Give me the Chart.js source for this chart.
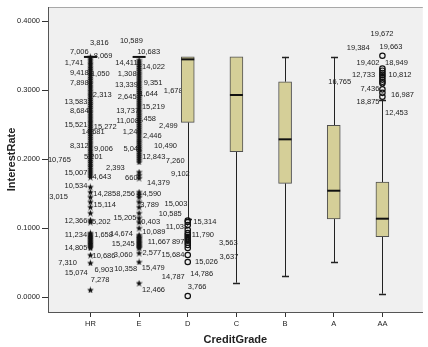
<!DOCTYPE html>
<html><head><meta charset="utf-8">
<script src="https://cdn.jsdelivr.net/npm/chart.js@4/dist/chart.umd.min.js"></script>
<style>html,body{margin:0;padding:0;background:#fff}#wrap{width:428px;height:347px;position:relative}</style>
</head><body><div id="wrap"><canvas id="c"></canvas></div>
<script>
// ---- data ----
const categories = ['HR','E','D','C','B','A','AA'];
const q1        = [0.3480, 0.3480, 0.2533, 0.2108, 0.1650, 0.1133, 0.0877];
const median    = [0.3480, 0.3480, 0.3445, 0.2929, 0.2287, 0.1543, 0.1138];
const q3        = [0.3480, 0.3480, 0.3480, 0.3480, 0.3121, 0.2490, 0.1669];
const whiskLow  = [0.3480, 0.3480, 0.1130, 0.0211, 0.0308, 0.0507, 0.0052];
const whiskHigh = [0.3480, 0.3480, 0.3480, 0.3480, 0.3480, 0.3480, 0.2856];
const yTicks = [0.0, 0.1, 0.2, 0.3, 0.4];

// extreme outliers (stars)
const hrStars = [0.3480,0.3449,0.3421,0.3388,0.3362,0.3329,0.3301,0.3274,0.3240,0.3215,0.3180,0.3152,0.3119,0.3093,0.3060,0.3031,0.2999,0.2972,0.2940,0.2912,0.2880,0.2851,0.2819,0.2792,0.2760,0.2731,0.2699,0.2672,0.2640,0.2610,0.2581,0.2549,0.2522,0.2490,0.2461,0.2430,0.2402,0.2369,0.2342,0.2310,0.2281,0.2249,0.2221,0.2190,0.2162,0.2129,0.2101,0.2070,0.2042,0.2010,0.1979,0.1951,0.1919,0.1893,0.1860,0.1829,0.1801,0.1772,0.1740,0.1597,0.1524,0.1452,0.1380,0.1307,0.1220,0.1119,0.1090,0.0931,0.0915,0.0899,0.0881,0.0862,0.0846,0.0829,0.0812,0.0796,0.0779,0.0761,0.0745,0.0729,0.0714,0.0612,0.0497,0.0106];
const eStars  = [0.3435,0.3405,0.3372,0.3341,0.3310,0.3281,0.3249,0.3221,0.3190,0.3160,0.3129,0.3101,0.3070,0.3039,0.3011,0.2980,0.2951,0.2919,0.2890,0.2861,0.2830,0.2800,0.2771,0.2740,0.2709,0.2681,0.2650,0.2621,0.2590,0.2561,0.2530,0.2499,0.2470,0.2441,0.2410,0.2380,0.2351,0.2320,0.2290,0.2259,0.2231,0.2200,0.2170,0.2141,0.2110,0.2079,0.2050,0.2021,0.1990,0.1959,0.1814,0.1770,0.1727,0.1524,0.1490,0.1452,0.1380,0.1307,0.1220,0.1148,0.1090,0.1003,0.0902,0.0885,0.0866,0.0849,0.0831,0.0812,0.0795,0.0778,0.0760,0.0744,0.0728,0.0714,0.0641,0.0511,0.0205];
// mild outliers (circles)
const dCircles  = [0.1112,0.1090,0.1047,0.0974,0.0931,0.0902,0.0872,0.0844,0.0818,0.0790,0.0757,0.0714,0.0612,0.0511,0.0019];
const aaCircles = [0.3497,0.3312,0.3281,0.3248,0.3219,0.3188,0.3152,0.3120,0.3098,0.3011,0.2960,0.2904];

// case labels: [text, x (category units), value]
const caseLabels = [
 ['3,816',0.182,0.3677],['7,006',-0.229,0.3556],['8,069',0.259,0.3498],['1,741',-0.334,0.3388],
 ['9,418',-0.229,0.3243],['1,050',0.203,0.3228],['7,898',-0.229,0.3098],['2,313',0.243,0.2929],
 ['13,583',-0.298,0.2832],['8,684',-0.229,0.2697],['15,521',-0.298,0.2494],['15,272',0.304,0.2470],
 ['14,681',0.057,0.2389],['8,312',-0.229,0.2195],['9,006',0.267,0.2147],['5,201',0.061,0.2027],
 ['10,765',-0.638,0.1988],['15,007',-0.298,0.1795],['2,393',0.513,0.1868],['4,643',0.233,0.1737],
 ['10,534',-0.298,0.1611],['3,015',-0.655,0.1456],['14,285',0.294,0.1495],['15,114',0.294,0.1336],
 ['12,366',-0.298,0.1112],['5,202',0.223,0.1086],['11,234',-0.298,0.0902],['1,658',0.270,0.0902],
 ['14,805',-0.298,0.0709],['10,686',0.278,0.0602],['7,310',-0.470,0.0492],['6,903',0.278,0.0395],
 ['15,074',-0.290,0.0347],['7,278',0.199,0.0250],
 ['10,589',0.841,0.3715],['10,683',1.196,0.3547],['14,411',0.740,0.3396],['14,022',1.297,0.3330],
 ['1,308',0.756,0.3228],['9,351',1.287,0.3107],['13,339',0.740,0.3073],['2,645',0.756,0.2904],
 ['1,644',1.196,0.2939],['1,678',1.702,0.2987],['15,219',1.293,0.2751],['13,737',0.764,0.2697],
 ['11,008',0.764,0.2557],['1,458',1.155,0.2581],['2,499',1.601,0.2480],['1,240',0.857,0.2389],
 ['2,446',1.271,0.2339],['10,490',1.544,0.2190],['5,041',0.871,0.2147],['12,843',1.303,0.2027],
 ['7,260',1.743,0.1973],['9,102',1.848,0.1789],['660',0.841,0.1731],['14,379',1.398,0.1659],
 ['8,256',0.723,0.1495],['4,590',1.262,0.1495],['3,789',1.216,0.1336],['15,003',1.757,0.1351],
 ['10,585',1.641,0.1202],['15,205',0.709,0.1144],['10,403',1.196,0.1094],['15,314',2.351,0.1094],
 ['10,089',1.303,0.0950],['11,038',1.779,0.1013],['11,790',2.310,0.0902],['14,674',0.638,0.0916],
 ['11,667',1.408,0.0805],['897',1.803,0.0805],['15,245',0.673,0.0767],['2,577',1.262,0.0637],
 ['3,060',0.673,0.0620],['15,684',1.696,0.0612],['3,563',2.833,0.0782],['3,637',2.847,0.0588],
 ['15,026',2.385,0.0507],['10,358',0.723,0.0410],['15,479',1.291,0.0420],['14,787',1.702,0.0298],
 ['14,786',2.286,0.0333],['12,466',1.297,0.0106],['3,766',2.193,0.0153],
 ['19,672',5.992,0.3807],['19,384',5.502,0.3605],['19,663',6.176,0.3619],['19,402',5.704,0.3396],
 ['18,949',6.288,0.3396],['12,733',5.613,0.3218],['10,812',6.363,0.3218],['16,765',5.123,0.3113],
 ['7,436',5.745,0.3011],['16,987',6.413,0.2929],['18,875',5.704,0.2832],['12,453',6.288,0.2664]
];

// ---- styling helpers ----
Chart.defaults.font.family = '"Liberation Sans", Arial, sans-serif';
Chart.defaults.color = '#222';

const starImg = (() => {
  const c = document.createElement('canvas'); c.width = 7; c.height = 7;
  const g = c.getContext('2d'); g.fillStyle = '#111'; g.beginPath();
  for (let i = 0; i < 10; i++) {
    const r = i % 2 ? 1.5 : 3.5, a = -Math.PI / 2 + i * Math.PI / 5;
    g.lineTo(3.5 + r * Math.cos(a), 3.8 + r * Math.sin(a));
  }
  g.closePath(); g.fill(); return c;
})();

const boxWidth = 13, capWidth = 7;

const boxPlugin = {
  id: 'boxParts',
  beforeDraw(chart) {
    const {ctx, chartArea: a} = chart;
    ctx.save();
    ctx.fillStyle = '#f0f0f0';
    ctx.fillRect(a.left, a.top, a.right - a.left, a.bottom - a.top);
    ctx.strokeStyle = '#a8a8a8'; ctx.lineWidth = 1;
    ctx.beginPath(); ctx.moveTo(a.left, a.top + 0.5); ctx.lineTo(a.right, a.top + 0.5); ctx.stroke();
    ctx.restore();
  },
  beforeDatasetsDraw(chart) {
    const {ctx} = chart, xs = chart.scales.x, ys = chart.scales.y;
    ctx.save();
    ctx.font = '7.5px "Liberation Sans", Arial, sans-serif';
    ctx.fillStyle = '#222'; ctx.textAlign = 'center'; ctx.textBaseline = 'middle';
    caseLabels.forEach(([t, x, v]) => ctx.fillText(t, xs.getPixelForValue(x), ys.getPixelForValue(v)));
    // whiskers
    ctx.strokeStyle = '#222'; ctx.lineWidth = 1;
    categories.forEach((c, i) => {
      const px = Math.round(xs.getPixelForValue(i)) + 0.5;
      const segs = [[whiskLow[i], q1[i]], [q3[i], whiskHigh[i]]];
      segs.forEach(([a, b]) => {
        if (Math.abs(a - b) < 1e-6) return;
        ctx.beginPath(); ctx.moveTo(px, ys.getPixelForValue(a)); ctx.lineTo(px, ys.getPixelForValue(b)); ctx.stroke();
      });
      [whiskLow[i], whiskHigh[i]].forEach((w, k) => {
        if (Math.abs(w - (k ? q3[i] : q1[i])) < 1e-6) return;
        const py = Math.round(ys.getPixelForValue(w)) + 0.5;
        ctx.lineWidth = 1.5;
        ctx.beginPath(); ctx.moveTo(px - capWidth / 2, py); ctx.lineTo(px + capWidth / 2, py); ctx.stroke();
        ctx.lineWidth = 1;
      });
    });
    ctx.restore();
  },
  afterDatasetsDraw(chart) {
    const {ctx} = chart, xs = chart.scales.x, ys = chart.scales.y;
    ctx.save(); ctx.strokeStyle = '#111'; ctx.lineWidth = 2;
    categories.forEach((c, i) => {
      const px = xs.getPixelForValue(i), py = ys.getPixelForValue(median[i]);
      ctx.beginPath(); ctx.moveTo(px - boxWidth / 2, py); ctx.lineTo(px + boxWidth / 2, py); ctx.stroke();
    });
    ctx.restore();
  }
};

const starData = (arr, x) => arr.map(v => ({x, y: v}));

new Chart(document.getElementById('c'), {
  type: 'bar',
  data: {
    datasets: [
      {
        type: 'bar',
        data: categories.map((c, i) => ({x: i, y: [q1[i], q3[i]]})),
        backgroundColor: '#d5cf98', borderColor: '#505050', borderWidth: 1,
        borderSkipped: false, barThickness: boxWidth, grouped: false
      },
      { type: 'scatter', data: starData(hrStars, 0), pointStyle: starImg, pointRadius: 3 },
      { type: 'scatter', data: starData(eStars, 1), pointStyle: starImg, pointRadius: 3 },
      { type: 'scatter', data: starData(dCircles, 2), pointStyle: 'circle', pointRadius: 2.7,
        borderColor: '#111', borderWidth: 1.2, backgroundColor: 'rgba(0,0,0,0)' },
      { type: 'scatter', data: starData(aaCircles, 6), pointStyle: 'circle', pointRadius: 2.7,
        borderColor: '#111', borderWidth: 1.2, backgroundColor: 'rgba(0,0,0,0)' }
    ]
  },
  options: {
    responsive: true, maintainAspectRatio: false, animation: false,
    layout: { padding: { top: 7, right: 0, left: 0, bottom: 0 } },
    plugins: { legend: { display: false }, tooltip: { enabled: false } },
    scales: {
      x: {
        type: 'linear', min: -0.872, max: 6.83, offset: false,
        afterFit(s) { s.height = 35; },
        afterBuildTicks(s) { s.ticks = categories.map((c, i) => ({value: i})); },
        ticks: { callback: v => categories[v], font: { size: 7.5 }, color: '#222', padding: 2, autoSkip: false, maxRotation: 0 },
        grid: { offset: false, drawOnChartArea: false, drawTicks: true, tickLength: 5, color: '#333' },
        border: { display: true, color: '#555', width: 1 },
        title: { display: true, text: 'CreditGrade', font: { size: 11, weight: 'bold' }, color: '#222', padding: { top: 0, bottom: 0.5 } }
      },
      y: {
        type: 'linear', min: -0.0213, max: 0.4203,
        afterFit(s) { s.width = 48; },
        afterBuildTicks(s) { s.ticks = yTicks.map(v => ({value: v})); },
        ticks: { callback: v => Number(v).toFixed(4), font: { size: 7.5 }, color: '#222', padding: 2 },
        grid: { offset: false, drawOnChartArea: false, drawTicks: true, tickLength: 6, color: '#333' },
        border: { display: true, color: '#555', width: 1 },
        title: { display: true, text: 'InterestRate', font: { size: 11, weight: 'bold' }, color: '#222', padding: { top: 5, bottom: 0 } }
      }
    }
  },
  plugins: [boxPlugin]
});
</script>
</body></html>
